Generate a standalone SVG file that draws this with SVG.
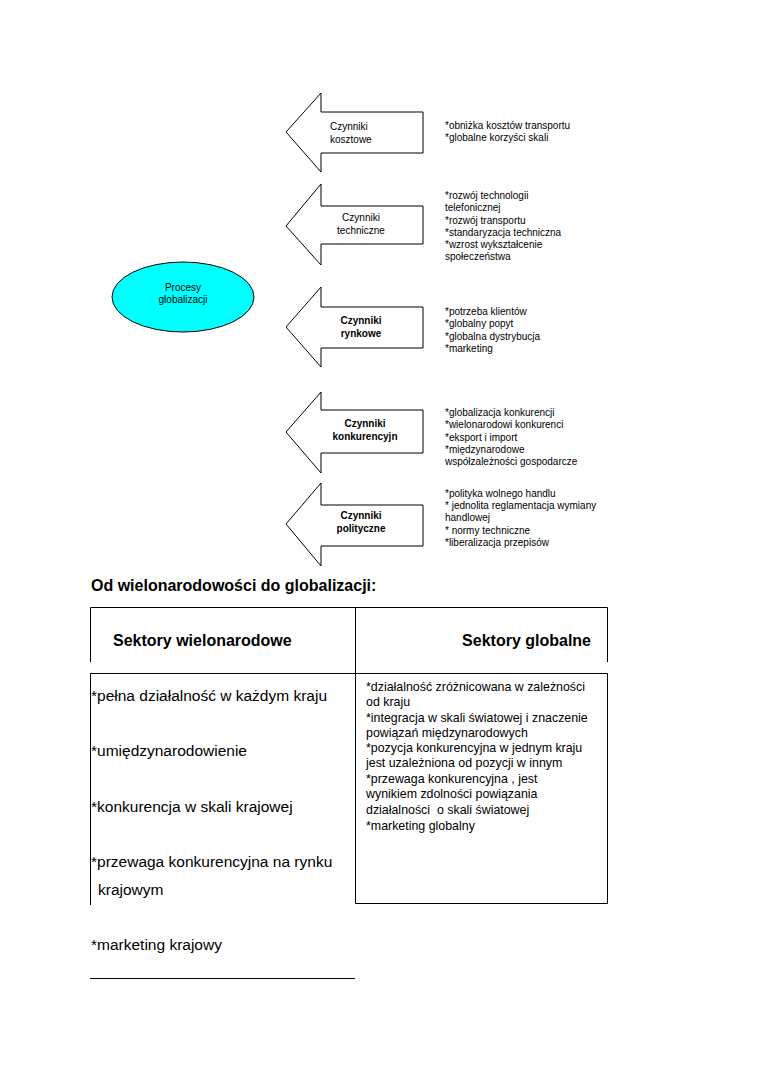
<svg xmlns="http://www.w3.org/2000/svg" width="760" height="1075" viewBox="0 0 760 1075">
<style>
.t{font-family:"Liberation Sans",Arial,sans-serif;fill:#000}
.s{font-size:10px}
.b{font-weight:bold}
.arr{fill:#fff;stroke:#000;stroke-width:1}
.ln{stroke:#000;stroke-width:1;fill:none}
.m{font-size:16px}
.l{font-size:15.5px}
.r{font-size:12.4px}
</style>
<rect width="760" height="1075" fill="#fff"/>
<g id="procesy">
<ellipse cx="183" cy="297" rx="71" ry="35" fill="#00ffff" stroke="#000" stroke-width="1"/>
<text class="t s" x="183" y="291" text-anchor="middle">Procesy</text>
<text class="t s" x="183" y="303" text-anchor="middle">globalizacji</text>
</g>
<g id="kosztowe">
<polygon class="arr" points="286,132 321,93 321,112 423,112 423,153 321,153 321,172"/>
<text class="t s" x="330" y="130">Czynniki</text>
<text class="t s" x="330" y="143">kosztowe</text>
<text class="t s" x="445" y="129">*obniżka kosztów transportu</text>
<text class="t s" x="445" y="141">*globalne korzyści skali</text>
</g>
<g id="techniczne">
<polygon class="arr" points="286,226 321,184 321,206 423,206 423,244 321,244 321,265"/>
<text class="t s" x="361" y="221" text-anchor="middle">Czynniki</text>
<text class="t s" x="361" y="234" text-anchor="middle">techniczne</text>
<text class="t s" x="445" y="199">*rozwój technologii</text>
<text class="t s" x="445" y="211">telefonicznej</text>
<text class="t s" x="445" y="224">*rozwój transportu</text>
<text class="t s" x="445" y="236">*standaryzacja techniczna</text>
<text class="t s" x="445" y="248">*wzrost wykształcenie</text>
<text class="t s" x="445" y="260">społeczeństwa</text>
</g>
<g id="rynkowe">
<polygon class="arr" points="286,327 321,287 321,307 423,307 423,348 321,348 321,367"/>
<text class="t s b" x="361" y="324" text-anchor="middle">Czynniki</text>
<text class="t s b" x="361" y="337" text-anchor="middle">rynkowe</text>
<text class="t s" x="445" y="315">*potrzeba klientów</text>
<text class="t s" x="445" y="327">*globalny popyt</text>
<text class="t s" x="445" y="340">*globalna dystrybucja</text>
<text class="t s" x="445" y="352">*marketing</text>
</g>
<g id="konkurencyjne">
<polygon class="arr" points="286,432 321,392 321,410 423,410 423,453 321,453 321,473"/>
<text class="t s b" x="365" y="427" text-anchor="middle">Czynniki</text>
<text class="t s b" x="365" y="440" text-anchor="middle">konkurencyjn</text>
<text class="t s" x="445" y="416">*globalizacja konkurencji</text>
<text class="t s" x="445" y="428">*wielonarodowi konkurenci</text>
<text class="t s" x="445" y="441">*eksport i import</text>
<text class="t s" x="445" y="453">*międzynarodowe</text>
<text class="t s" x="445" y="465">współzależności gospodarcze</text>
</g>
<g id="polityczne">
<polygon class="arr" points="286,524 321,483 321,505 423,505 423,546 321,546 321,566"/>
<text class="t s b" x="361" y="519" text-anchor="middle">Czynniki</text>
<text class="t s b" x="361" y="532" text-anchor="middle">polityczne</text>
<text class="t s" x="445" y="497">*polityka wolnego handlu</text>
<text class="t s" x="445" y="509">* jednolita reglamentacja wymiany</text>
<text class="t s" x="445" y="521">handlowej</text>
<text class="t s" x="445" y="534">* normy techniczne</text>
<text class="t s" x="445" y="546">*liberalizacja przepisów</text>
</g>
<g id="tabela">
<text class="t m b" x="91" y="591">Od wielonarodowości do globalizacji:</text>
<path class="ln" d="M90.5,607.5H607.5 M90.5,607.5V662 M607.5,607.5V662 M355.5,607.5V903.5 M90.5,673.5H607.5 M90.5,673.5V905 M355.5,903.5H607.5 M607.5,673.5V903.5 M90,978.5H355"/>
<text class="t m b" x="113" y="646">Sektory wielonarodowe</text>
<text class="t m b" x="591" y="646" text-anchor="end">Sektory globalne</text>
<text class="t l" x="91" y="701">*pełna działalność w każdym kraju</text>
<text class="t l" x="91" y="756">*umiędzynarodowienie</text>
<text class="t l" x="91" y="812">*konkurencja w skali krajowej</text>
<text class="t l" x="91" y="867">*przewaga konkurencyjna na rynku</text>
<text class="t l" x="98" y="895">krajowym</text>
<text class="t l" x="91" y="950">*marketing krajowy</text>
<text class="t r" x="366" y="691">*działalność zróżnicowana w zależności</text>
<text class="t r" x="366" y="706">od kraju</text>
<text class="t r" x="366" y="722">*integracja w skali światowej i znaczenie</text>
<text class="t r" x="366" y="737">powiązań międzynarodowych</text>
<text class="t r" x="366" y="752">*pozycja konkurencyjna w jednym kraju</text>
<text class="t r" x="366" y="767">jest uzależniona od pozycji w innym</text>
<text class="t r" x="366" y="783">*przewaga konkurencyjna , jest</text>
<text class="t r" x="366" y="798">wynikiem zdolności powiązania</text>
<text class="t r" x="366" y="814" xml:space="preserve">działalności  o skali światowej</text>
<text class="t r" x="366" y="830">*marketing globalny</text>
</g>
</svg>
